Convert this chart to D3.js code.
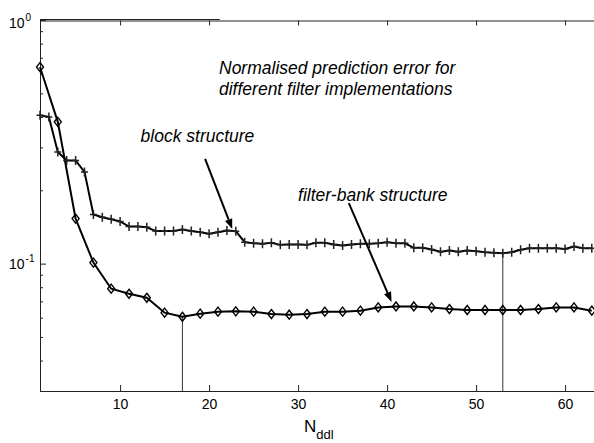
<!DOCTYPE html>
<html>
<head>
<meta charset="utf-8">
<script src="https://cdn.jsdelivr.net/npm/d3@7"></script>
<style>
  html, body { margin: 0; padding: 0; background: #fff; }
  svg { display: block; font-family: "Liberation Sans", Arial, Helvetica, sans-serif; }
</style>
</head>
<body>
<svg id="chart" width="594" height="443"></svg>
<script>
// normalised prediction error vs N_ddl, log y axis (matlab style figure)

const WIDTH = 594;
const HEIGHT = 443;

// filter-bank structure (diamonds), odd N only
const diamondN = [1, 3, 5, 7, 9, 11, 13, 15, 17, 19, 21, 23, 25, 27, 29, 31,
	33, 35, 37, 39, 41, 43, 45, 47, 49, 51, 53, 55, 57, 59, 61, 63];
const diamondErr = [0.641, 0.382, 0.153, 0.101, 0.0789, 0.0752, 0.0724, 0.0629,
	0.0605, 0.0623, 0.0635, 0.0637, 0.0635, 0.0621, 0.0617, 0.0621,
	0.0635, 0.0635, 0.0641, 0.0661, 0.0667, 0.0667, 0.0661, 0.0651,
	0.0645, 0.0645, 0.0645, 0.0645, 0.0651, 0.0661, 0.0661, 0.0641];

// block structure (plus markers), every N
const plusN = [1, 2, 3, 4, 5, 6, 7, 8, 9, 10, 11, 12, 13, 14, 15, 16, 17, 18, 19, 20,
	21, 22, 23, 24, 25, 26, 27, 28, 29, 30, 31, 32, 33, 34, 35, 36, 37, 38, 39, 40,
	41, 42, 43, 44, 45, 46, 47, 48, 49, 50, 51, 52, 53, 54, 55, 56, 57, 58, 59, 60,
	61, 62, 63];
const plusErr = [0.406, 0.400, 0.287, 0.265, 0.265, 0.238, 0.159, 0.155, 0.152, 0.149,
	0.142, 0.142, 0.141, 0.136, 0.136, 0.136, 0.138, 0.136, 0.1345, 0.1325,
	0.1345, 0.1367, 0.1358, 0.1224, 0.1212, 0.1206, 0.1217, 0.1194, 0.1197, 0.1197,
	0.1194, 0.1217, 0.1217, 0.1197, 0.1186, 0.1197, 0.1206, 0.1206, 0.1212, 0.1224,
	0.1212, 0.1212, 0.1161, 0.1161, 0.1142, 0.1120, 0.1131, 0.1120, 0.1131, 0.1123,
	0.1113, 0.1107, 0.1102, 0.1113, 0.1139, 0.1156, 0.1156, 0.1156, 0.1156, 0.1149,
	0.1175, 0.1156, 0.1156];

// ticks
const xTicks = [10, 20, 30, 40, 50, 60];
const yMajor = [0.1, 1];
const yMajorExp = ["-1", "0"];
const yMinor = [0.03, 0.04, 0.05, 0.06, 0.07, 0.08, 0.09, 0.2, 0.3, 0.4, 0.5, 0.6, 0.7, 0.8, 0.9];

// minimum markers (vertical drop lines)
const dropN = [17, 53];
const dropSeries = ["diamond", "plus"];

// annotations (data units)
const titleLines = ["Normalised prediction error for", "different filter implementations"];
const labels = [
	{ text: "block structure", n: 12.3, v: 0.316 },
	{ text: "filter-bank structure", n: 30.0, v: 0.180 }
];
const arrows = [
	{ from: [19.55, 0.269], to: [22.6, 0.1387] },
	{ from: [35.7, 0.1773], to: [40.5, 0.0696] }
];

const margin = { left: 40, top: 20, bottom: 52 };

const x = d3.scaleLinear()
	.domain([1, 64])
	.range([margin.left, margin.left + 63 * 8.9]);

const y = d3.scaleLog()
	.domain([0.03, 1])
	.range([HEIGHT - margin.bottom, margin.top]);

const svg = d3.select("#chart");
const axisColor = "#222";

// axes
const bottom = svg.append("g")
	.attr("transform", `translate(0,${y.range()[0]})`)
	.call(d3.axisBottom(x).tickValues(xTicks).tickSize(-6).tickSizeOuter(0).tickPadding(8.5));
bottom.selectAll("text").style("font-size", "14px").attr("fill", "#000");

svg.append("g")
	.attr("transform", `translate(0,${y.range()[1] + 0.5})`)
	.call(d3.axisTop(x).tickValues(xTicks).tickSize(-5).tickSizeOuter(0).tickFormat(""));

svg.append("g")
	.attr("transform", `translate(${margin.left},0)`)
	.call(d3.axisLeft(y).tickValues(yMinor).tickSize(-3).tickSizeOuter(0).tickFormat(""));

const left = svg.append("g")
	.attr("transform", `translate(${margin.left},0)`)
	.call(d3.axisLeft(y).tickValues(yMajor).tickSize(-6).tickSizeOuter(0).tickFormat(""));

svg.selectAll(".domain, .tick line").attr("stroke", axisColor);

// 10^k labels
const yLab = svg.append("g").style("font-size", "14px");
yMajor.forEach((v, i) => {
	const t = yLab.append("text")
		.attr("y", y(v) + 5 + (v === 1 ? 3 : 0));
	t.append("tspan").attr("x", 9).text("10");
	t.append("tspan").attr("dy", -7).attr("dx", 1).style("font-size", "10px").text(yMajorExp[i]);
});

// small extra segment along the top edge
svg.append("line")
	.attr("x1", x(1)).attr("x2", x(21.2))
	.attr("y1", y(1) - 0.5).attr("y2", y(1) - 0.5)
	.attr("stroke", axisColor).attr("stroke-width", 1.2);

// drop lines at the minima
const seriesLookup = {
	diamond: n => diamondErr[diamondN.indexOf(n)],
	plus: n => plusErr[plusN.indexOf(n)]
};
svg.append("g")
	.selectAll("line")
	.data(dropN.map((n, i) => ({ n, v: seriesLookup[dropSeries[i]](n) })))
	.join("line")
	.attr("x1", d => x(d.n)).attr("x2", d => x(d.n))
	.attr("y1", d => y(d.v)).attr("y2", y.range()[0])
	.attr("stroke", "#333")
	.attr("stroke-width", 1);

// series lines
const line = d3.line().x(d => x(d[0])).y(d => y(d[1]));
const plusData = plusN.map((n, i) => [n, plusErr[i]]);
const diamondData = diamondN.map((n, i) => [n, diamondErr[i]]);

svg.append("path")
	.datum(plusData)
	.attr("d", line)
	.attr("fill", "none")
	.attr("stroke", "#000")
	.attr("stroke-width", 2);

svg.append("path")
	.datum(diamondData)
	.attr("d", line)
	.attr("fill", "none")
	.attr("stroke", "#000")
	.attr("stroke-width", 2);

// markers
svg.append("g")
	.selectAll("path")
	.data(plusData)
	.join("path")
	.attr("transform", d => `translate(${x(d[0])},${y(d[1])})`)
	.attr("d", "M-3.5,0H3.5M0,-4.5V4.5")
	.attr("stroke", "#222")
	.attr("stroke-width", 1.5);

svg.append("g")
	.selectAll("path")
	.data(diamondData)
	.join("path")
	.attr("transform", d => `translate(${x(d[0])},${y(d[1])})`)
	.attr("d", "M0,-4.5L3.5,0L0,4.5L-3.5,0Z")
	.attr("fill", "none")
	.attr("stroke", "#000")
	.attr("stroke-width", 1.4);

// annotation text
const ann = svg.append("g")
	.style("font-size", "17.5px")
	.style("font-style", "italic")
	.attr("fill", "#000");

ann.selectAll("text.title")
	.data(titleLines)
	.join("text")
	.attr("class", "title")
	.attr("x", 219)
	.attr("y", (d, i) => 74 + i * 20.5)
	.text(d => d);

ann.selectAll("text.lab")
	.data(labels)
	.join("text")
	.attr("class", "lab")
	.attr("x", d => x(d.n))
	.attr("y", d => y(d.v))
	.text(d => d.text);

// arrows
const arrowG = svg.append("g");
arrows.forEach(a => {
	const x0 = x(a.from[0]), y0 = y(a.from[1]);
	const x1 = x(a.to[0]), y1 = y(a.to[1]);
	const ang = Math.atan2(y1 - y0, x1 - x0);
	const len = 10, half = 3.8;
	const bx = x1 - len * Math.cos(ang), by = y1 - len * Math.sin(ang);
	arrowG.append("line")
		.attr("x1", x0).attr("y1", y0)
		.attr("x2", bx).attr("y2", by)
		.attr("stroke", "#000").attr("stroke-width", 2);
	const px = -Math.sin(ang) * half, py = Math.cos(ang) * half;
	arrowG.append("path")
		.attr("d", `M${x1},${y1}L${bx + px},${by + py}L${bx - px},${by - py}Z`)
		.attr("fill", "#000");
});

// x label N_ddl
const xl = svg.append("text")
	.attr("x", 304)
	.attr("y", 432)
	.style("font-size", "17px");
xl.append("tspan").text("N");
xl.append("tspan").attr("dy", 7).style("font-size", "13px").text("ddl");
</script>
</body>
</html>
